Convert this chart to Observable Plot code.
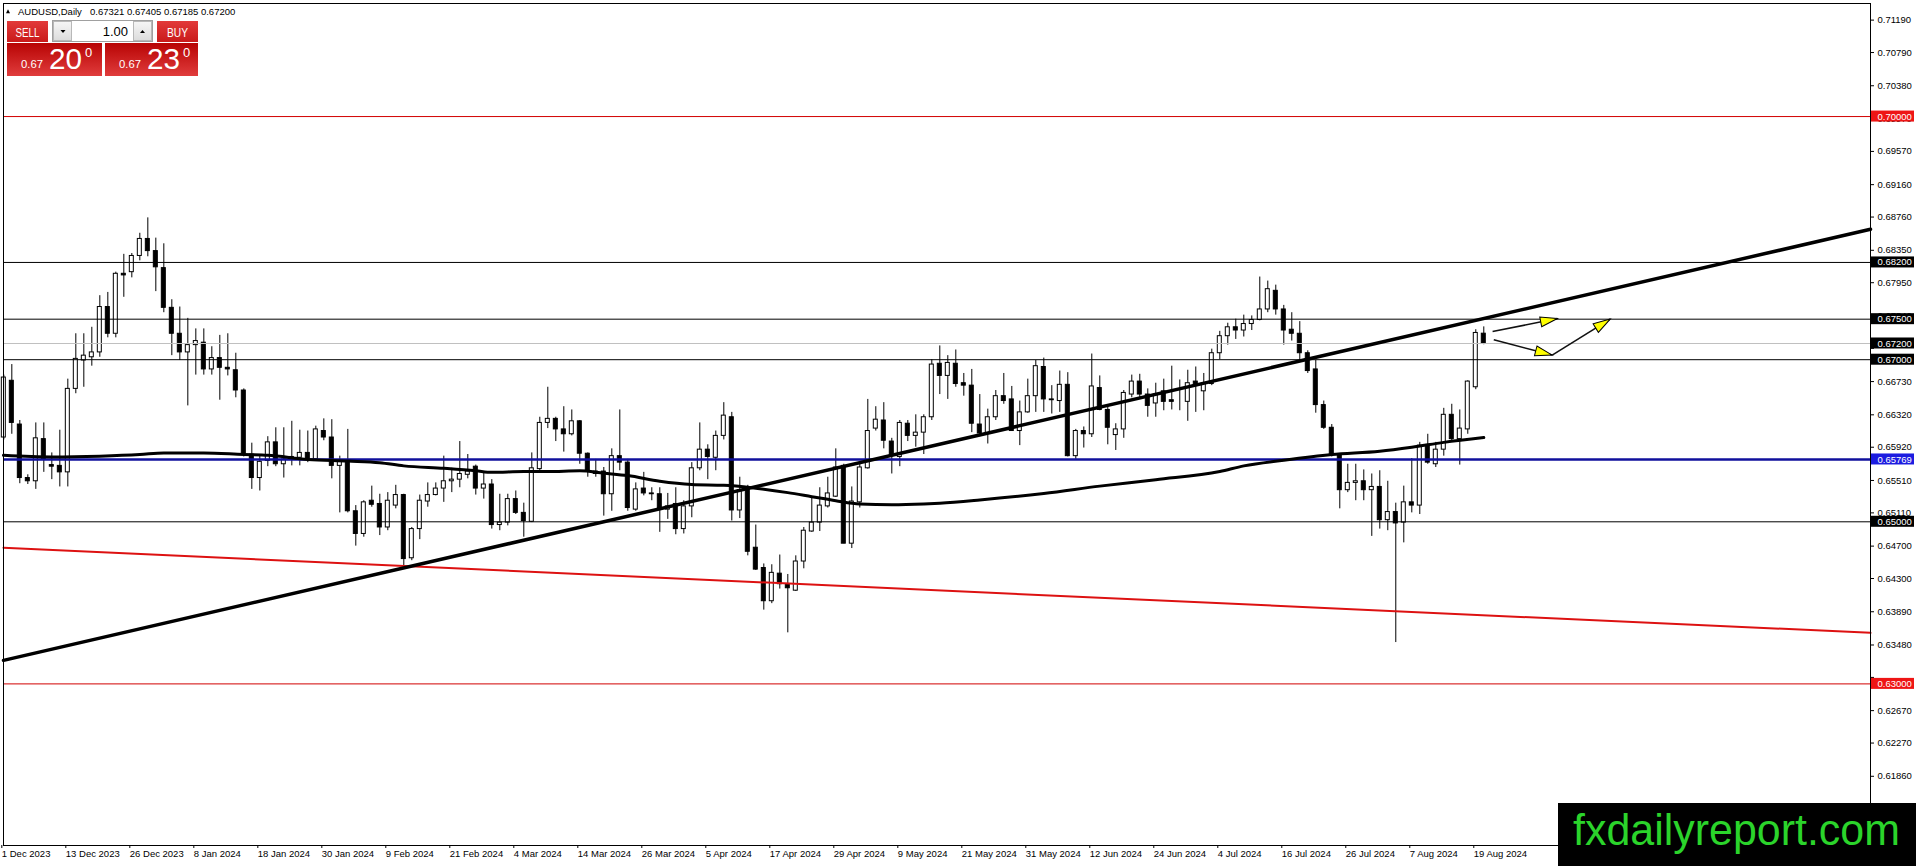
<!DOCTYPE html>
<html><head><meta charset="utf-8">
<script src="https://cdn.jsdelivr.net/npm/d3@7"></script>
<script src="https://cdn.jsdelivr.net/npm/@observablehq/plot@0.6"></script>
<style>
html,body{margin:0;padding:0;background:#fff;}
#wrap{position:relative;width:1916px;height:866px;overflow:hidden;}
#wrap svg{display:block;}
#ov{position:absolute;left:0;top:0;pointer-events:none;}
</style></head>
<body><div id="wrap"></div>
<script>
// ---------- data ----------
const xTickIdx = [0,8,16,24,32,40,48,56,64,72,80,88,96,104,112,120,128,136,144,152,160,168,176,184];
const xTickLabels = ["1 Dec 2023","13 Dec 2023","26 Dec 2023","8 Jan 2024","18 Jan 2024","30 Jan 2024","9 Feb 2024","21 Feb 2024","4 Mar 2024","14 Mar 2024","26 Mar 2024","5 Apr 2024","17 Apr 2024","29 Apr 2024","9 May 2024","21 May 2024","31 May 2024","12 Jun 2024","24 Jun 2024","4 Jul 2024","16 Jul 2024","26 Jul 2024","7 Aug 2024","19 Aug 2024"];
const yTicks = [0.71190,0.70790,0.70380,0.69970,0.69570,0.69160,0.68760,0.68350,0.67950,0.67540,0.67140,0.66730,0.66320,0.65920,0.65510,0.65110,0.64700,0.64300,0.63890,0.63480,0.63080,0.62670,0.62270,0.61860];
// tick labels covered by the level price boxes
const yTicksCovered = [0.67140, 0.63080];

const open = [0.6604,0.6674,0.6620,0.6554,0.6550,0.6602,0.6570,0.6569,0.6561,0.6664,0.6699,0.6703,0.6709,0.6765,0.6732,0.6806,0.6808,0.6828,0.6849,0.6834,
0.6813,0.6764,0.6732,0.6709,0.6718,0.6721,0.6688,0.6702,0.6690,0.6687,0.6662,0.6583,0.6554,0.6575,0.6598,0.6571,0.6580,0.6579,0.6585,0.6577,
0.6612,0.6604,0.6569,0.6575,0.6513,0.6485,0.6526,0.6522,0.6493,0.6520,0.6533,0.6455,0.6491,0.6525,0.6533,0.6541,0.6550,0.6552,0.6558,0.6568,
0.6541,0.6546,0.6496,0.6499,0.6528,0.6511,0.6500,0.6565,0.6622,0.6627,0.6614,0.6608,0.6624,0.6584,0.6562,0.6562,0.6534,0.6581,0.6573,0.6515,
0.6541,0.6535,0.6534,0.6515,0.6522,0.6491,0.6519,0.6566,0.6589,0.6579,0.6606,0.6629,0.6514,0.6541,0.6468,0.6443,0.6402,0.6436,0.6423,0.6415,
0.6451,0.6488,0.6499,0.6519,0.6531,0.6569,0.6473,0.6524,0.6566,0.6615,0.6625,0.6599,0.6580,0.6621,0.6606,0.6610,0.6629,0.6695,0.6680,0.6695,
0.6671,0.6668,0.6620,0.6609,0.6629,0.6655,0.6651,0.6612,0.6635,0.6655,0.6691,0.6651,0.6649,0.6669,0.6581,0.6612,0.6608,0.6665,0.6638,0.6607,
0.6614,0.6657,0.6673,0.6657,0.6646,0.6661,0.6650,0.6649,0.6648,0.6673,0.6661,0.6670,0.6708,0.6729,0.6740,0.6736,0.6744,0.6749,0.6762,0.6785,
0.6762,0.6737,0.6732,0.6708,0.6688,0.6644,0.6616,0.6582,0.6539,0.6548,0.6550,0.6539,0.6543,0.6502,0.6512,0.6499,0.6524,0.6520,0.6594,0.6571,
0.6589,0.6632,0.6602,0.6614,0.6666,0.67321];
const high = [0.6681,0.6694,0.6625,0.6558,0.6622,0.6622,0.6585,0.6613,0.6676,0.6732,0.6732,0.6740,0.6779,0.6783,0.6808,0.6830,0.6831,0.6856,0.6875,0.6850,
0.6843,0.6774,0.6765,0.6751,0.6738,0.6738,0.6716,0.6730,0.6732,0.6708,0.6664,0.6597,0.6583,0.6605,0.6616,0.6616,0.6624,0.6613,0.6612,0.6618,
0.6627,0.6626,0.6581,0.6614,0.6520,0.6526,0.6544,0.6534,0.6536,0.6545,0.6534,0.6493,0.6533,0.6548,0.6548,0.6581,0.6566,0.6599,0.6583,0.6570,
0.6561,0.6552,0.6534,0.6534,0.6538,0.6523,0.6585,0.6629,0.6666,0.6629,0.6642,0.6638,0.6625,0.6585,0.6577,0.6567,0.6590,0.6638,0.6577,0.6548,
0.6561,0.6542,0.6542,0.6535,0.6542,0.6526,0.6573,0.6622,0.6595,0.6612,0.6647,0.6635,0.6555,0.6545,0.6496,0.6448,0.6447,0.6459,0.6435,0.6458,
0.6493,0.6531,0.6542,0.6555,0.6590,0.6571,0.6543,0.6573,0.6651,0.6642,0.6647,0.6603,0.6625,0.6625,0.6632,0.6632,0.6700,0.6717,0.6705,0.6712,
0.6683,0.6688,0.6657,0.6639,0.6662,0.6683,0.6667,0.6649,0.6676,0.6699,0.6702,0.6668,0.6686,0.6684,0.6614,0.6617,0.6707,0.6680,0.6642,0.6621,
0.6662,0.6681,0.6682,0.6664,0.6671,0.6676,0.6692,0.6675,0.6687,0.6691,0.6683,0.6713,0.6735,0.6745,0.6750,0.6755,0.6754,0.6802,0.6797,0.6792,
0.6767,0.6758,0.6747,0.6711,0.6699,0.6649,0.6620,0.6583,0.6571,0.6571,0.6564,0.6559,0.6563,0.6550,0.6523,0.6544,0.6578,0.6598,0.6608,0.6598,
0.6640,0.6645,0.6638,0.6674,0.6737,0.67405];
const low = [0.6601,0.6608,0.6547,0.6546,0.6540,0.6561,0.6552,0.6543,0.6543,0.6658,0.6666,0.6692,0.6703,0.6727,0.6727,0.6777,0.6801,0.6822,0.6827,0.6784,
0.6758,0.6705,0.6699,0.6643,0.6681,0.6681,0.6681,0.6650,0.6680,0.6653,0.6580,0.6540,0.6538,0.6568,0.6568,0.6554,0.6569,0.6569,0.6573,0.6575,
0.6600,0.6553,0.6511,0.6511,0.6470,0.6481,0.6518,0.6483,0.6489,0.6516,0.6446,0.6452,0.6478,0.6518,0.6532,0.6524,0.6536,0.6542,0.6553,0.6533,
0.6528,0.6491,0.6489,0.6495,0.6509,0.6481,0.6499,0.6563,0.6615,0.6599,0.6586,0.6606,0.6571,0.6555,0.6555,0.6507,0.6513,0.6563,0.6513,0.6513,
0.6532,0.6526,0.6487,0.6503,0.6484,0.6485,0.6505,0.6563,0.6552,0.6563,0.6601,0.6501,0.6504,0.6458,0.6440,0.6391,0.6399,0.6417,0.6363,0.6414,
0.6442,0.6487,0.6488,0.6517,0.6530,0.6473,0.6467,0.6517,0.6565,0.6612,0.6590,0.6559,0.6568,0.6599,0.6592,0.6583,0.6625,0.6657,0.6651,0.6666,
0.6655,0.6610,0.6605,0.6596,0.6625,0.6645,0.6612,0.6594,0.6634,0.6635,0.6635,0.6633,0.6635,0.6580,0.6577,0.6591,0.6604,0.6637,0.6595,0.6588,
0.6603,0.6653,0.6653,0.6629,0.6629,0.6637,0.6638,0.6637,0.6624,0.6635,0.6637,0.6668,0.6700,0.6718,0.6725,0.6728,0.6736,0.6748,0.6758,0.6755,
0.6718,0.6723,0.6699,0.6683,0.6634,0.6614,0.6580,0.6516,0.6536,0.6526,0.6526,0.6482,0.6491,0.6489,0.6351,0.6474,0.6511,0.6509,0.6571,0.6567,
0.6581,0.6598,0.6570,0.6608,0.6663,0.67185];
const close = [0.6678,0.6622,0.6554,0.6550,0.6603,0.6577,0.6568,0.6561,0.6664,0.6701,0.6705,0.6709,0.6765,0.6732,0.6806,0.6804,0.6828,0.6849,0.6834,0.6814,
0.6764,0.6732,0.6709,0.6718,0.6723,0.6688,0.6702,0.6690,0.6688,0.6662,0.6583,0.6554,0.6574,0.6598,0.6571,0.6577,0.6578,0.6585,0.6577,0.6614,
0.6604,0.6569,0.6575,0.6513,0.6485,0.6524,0.6521,0.6493,0.6526,0.6533,0.6454,0.6491,0.6526,0.6533,0.6541,0.6550,0.6552,0.6559,0.6562,0.6541,
0.6546,0.6496,0.6499,0.6528,0.6511,0.6501,0.6566,0.6622,0.6627,0.6614,0.6608,0.6624,0.6584,0.6563,0.6559,0.6534,0.6581,0.6573,0.6517,0.6540,
0.6535,0.6534,0.6517,0.6519,0.6491,0.6519,0.6566,0.6589,0.6580,0.6606,0.6631,0.6514,0.6539,0.6463,0.6441,0.6402,0.6437,0.6423,0.6418,0.6451,
0.6489,0.6499,0.6520,0.6535,0.6567,0.6473,0.6525,0.6567,0.6612,0.6626,0.6600,0.6582,0.6622,0.6606,0.6610,0.6629,0.6694,0.6680,0.6696,0.6670,
0.6668,0.6621,0.6609,0.6629,0.6655,0.6649,0.6612,0.6635,0.6655,0.6692,0.6651,0.6650,0.6669,0.6581,0.6612,0.6608,0.6667,0.6638,0.6616,0.6614,
0.6659,0.6673,0.6657,0.6643,0.6657,0.6648,0.6648,0.6649,0.6671,0.6668,0.6671,0.6708,0.6729,0.6740,0.6736,0.6744,0.6749,0.6762,0.6787,0.6762,
0.6736,0.6732,0.6708,0.6686,0.6644,0.6616,0.6582,0.6539,0.6548,0.6550,0.6539,0.6543,0.6502,0.6512,0.6498,0.6524,0.6520,0.6594,0.6573,0.6589,
0.6632,0.6602,0.6615,0.6673,0.6733,0.67200];

// moving average (bar index, value)
const maIdx = [-0.04,6,12,17,20,25,30,33,38,43,47,50,55,59,61,65,68,72,75,78,82,86,90,93.5,98,101,104,107,111,115,117,122,130,137,144,152,155,160,166,172,176,180,185];
const maVal = [0.6582,0.6580,0.6581,0.6583,0.6585,0.6585,0.6583,0.6582,0.6577,0.6575,0.6573,0.6569,0.6566,0.6563,0.6561,0.6562,0.6562,0.6563,0.6560,0.6557,0.6550,0.6546,0.6545,0.6542,0.6536,0.6531,0.6526,0.6522,0.6521,0.6522,0.6523,0.6527,0.6535,0.6544,0.6552,0.6562,0.6569,0.6576,0.6583,0.6587,0.6592,0.6598,0.6604];

// drawn objects
const trendIdx = [-0.04, 233.34];
const blackTrendVal = [0.6329, 0.6861];
const redTrendVal = [0.6468, 0.6363];
const levelPrices = [0.70000, 0.68200, 0.67500, 0.67200, 0.67000, 0.65769, 0.65000, 0.63000];
const levelKinds  = ["red","black","black","bid","black","blue","black","red"];
const arrowX1 = [186.1, 186.25, 193.55];
const arrowY1 = [0.67348, 0.67245, 0.67057];
const arrowX2 = [194.2, 193.55, 200.8];
const arrowY2 = [0.67508, 0.67057, 0.67501];

// ---------- layout ----------
const W = 1916, H = 866;
const mL = 3, mR = 46, mT = 3, mB = 21;
const xDomain = [-0.04, 233.34];
const yDomain = [0.61006, 0.71395];
const kx = (W - mR - mL) / (xDomain[1] - xDomain[0]);
const ky = (H - mB - mT) / (yDomain[1] - yDomain[0]);
const pxToX = px => xDomain[0] + (px - mL) / kx;

const candles = open.map((o, i) => ({i, o, h: high[i], l: low[i], c: close[i]}));
const ma = maIdx.map((i, k) => ({i, v: maVal[k]}));
const blackTrend = trendIdx.map((i, k) => ({i, v: blackTrendVal[k]}));
const redTrend = trendIdx.map((i, k) => ({i, v: redTrendVal[k]}));

const lineStyle = {red: ["#d20000", 1], black: ["#000000", 1], bid: ["#c0c0c0", 1], blue: ["#10109c", 2.5]};
const boxStyle = {red: "#ee1515", black: "#000000", bid: "#000000", blue: "#1c1ce0"};
const levels = levelPrices.map((p, k) => ({p, stroke: lineStyle[levelKinds[k]][0], sw: lineStyle[levelKinds[k]][1], bg: boxStyle[levelKinds[k]]}));

const arrows = arrowX1.map((x1, k) => {
  const dx = (arrowX2[k] - x1) * kx, dy = -(arrowY2[k] - arrowY1[k]) * ky;
  return {x1, y1: arrowY1[k], x2: arrowX2[k], y2: arrowY2[k], rot: Math.atan2(dx, -dy) * 180 / Math.PI};
});
const headSymbol = {draw(ctx) { ctx.moveTo(0, 0); ctx.lineTo(-5, 17); ctx.lineTo(5, 17); ctx.closePath(); }};
const xLabelMap = new Map(xTickIdx.map((d, k) => [d, xTickLabels[k]]));
const boxHalf = 5.5 / ky;
const font = "'Liberation Sans', Arial, sans-serif";

const chart = Plot.plot({
  width: W, height: H,
  marginLeft: mL, marginRight: mR, marginTop: mT, marginBottom: mB,
  x: {type: "linear", domain: xDomain},
  y: {type: "linear", domain: yDomain},
  style: {fontFamily: font, fontSize: "9.5px", background: "#fff", color: "#000", overflow: "visible"},
  marks: [
    Plot.ruleX(candles, {x: "i", y1: "l", y2: "h", stroke: "#000", strokeWidth: 1}),
    Plot.rect(candles, {
      x1: d => d.i - 0.25, x2: d => d.i + 0.25,
      y1: d => Math.min(d.o, d.c), y2: d => Math.max(d.o, d.c),
      fill: d => d.c >= d.o ? "#ffffff" : "#000000", stroke: "#000", strokeWidth: 1
    }),
    Plot.ruleY(levels, {y: "p", stroke: d => d.stroke, strokeWidth: d => d.sw}),
    Plot.line(ma, {x: "i", y: "v", stroke: "#000", strokeWidth: 3, curve: "monotone-x"}),
    Plot.line(redTrend, {x: "i", y: "v", stroke: "#dd1111", strokeWidth: 2}),
    Plot.line(blackTrend, {x: "i", y: "v", stroke: "#000", strokeWidth: 3.5}),
    Plot.link(arrows, {x1: "x1", y1: "y1", x2: "x2", y2: "y2", stroke: "#111", strokeWidth: 1.6}),
    Plot.dot(arrows, {x: "x2", y: "y2", rotate: "rot", symbol: headSymbol, fill: "#ffff00", stroke: "#000", strokeWidth: 1, r: 6}),
    Plot.frame({stroke: "#000", strokeWidth: 1}),
    Plot.axisX({ticks: xTickIdx, tickFormat: d => xLabelMap.get(d), tickSize: 3, tickPadding: 2, textAnchor: "start", dx: -2, fontSize: 9.5, fontFamily: font}),
    Plot.axisY({anchor: "right", ticks: yTicks, tickFormat: d => yTicksCovered.includes(d) ? "" : d.toFixed(5), tickSize: 3, tickPadding: 4, fontSize: 9.5, fontFamily: font}),
    Plot.rect(levels, {x1: () => pxToX(1871), x2: () => pxToX(1914), y1: d => d.p - boxHalf, y2: d => d.p + boxHalf, fill: d => d.bg}),
    Plot.text(levels, {x: () => xDomain[1], y: "p", text: d => d.p.toFixed(5), dx: 7, textAnchor: "start", fill: "#fff", fontSize: 9.5, fontFamily: font})
  ]
});
const wrap = document.getElementById("wrap");
wrap.appendChild(chart);

// ---------- overlay: header, trading panel, watermark ----------
const ov = `
<svg id="ov" width="${W}" height="${H}" xmlns="http://www.w3.org/2000/svg" font-family="${font}">
 <defs>
  <linearGradient id="btn" x1="0" y1="0" x2="0" y2="1"><stop offset="0" stop-color="#e23a3a"/><stop offset="1" stop-color="#c91a1a"/></linearGradient>
  <linearGradient id="pbox" x1="0" y1="0" x2="0" y2="1"><stop offset="0" stop-color="#b80404"/><stop offset="1" stop-color="#e03c3c"/></linearGradient>
  <linearGradient id="gbtn" x1="0" y1="0" x2="0" y2="1"><stop offset="0" stop-color="#f6f6f6"/><stop offset="1" stop-color="#dcdcdc"/></linearGradient>
 </defs>
 <path d="M6 13.3 L8 9.3 L10 13.3 Z" fill="#000"/>
 <text x="18" y="15" font-size="9.5" fill="#000">AUDUSD,Daily</text>
 <text x="90" y="15" font-size="9.5" fill="#000">0.67321 0.67405 0.67185 0.67200</text>
 <rect x="7" y="21" width="41" height="21" fill="url(#btn)"/>
 <text x="27.5" y="36.5" font-size="12.5" fill="#fff" text-anchor="middle" textLength="24" lengthAdjust="spacingAndGlyphs">SELL</text>
 <rect x="52.5" y="20.5" width="100" height="21" fill="#fff" stroke="#a0a0a0"/>
 <rect x="53.5" y="21.5" width="18" height="19" fill="url(#gbtn)" stroke="#b8b8b8"/>
 <path d="M60.5 30 L65.5 30 L63 33 Z" fill="#000"/>
 <text x="128" y="36" font-size="13" fill="#000" text-anchor="end">1.00</text>
 <rect x="133.5" y="21.5" width="18" height="19" fill="url(#gbtn)" stroke="#b8b8b8"/>
 <path d="M140 33 L145 33 L142.5 30 Z" fill="#000"/>
 <rect x="157" y="21" width="41" height="21" fill="url(#btn)"/>
 <text x="177.5" y="36.5" font-size="12.5" fill="#fff" text-anchor="middle" textLength="21" lengthAdjust="spacingAndGlyphs">BUY</text>
 <rect x="7" y="43" width="95" height="33" fill="url(#pbox)"/>
 <rect x="105" y="43" width="93" height="33" fill="url(#pbox)"/>
 <text x="21" y="68" font-size="11" fill="#fff" textLength="22" lengthAdjust="spacingAndGlyphs">0.67</text>
 <text x="49" y="69" font-size="30" fill="#fff" textLength="33" lengthAdjust="spacingAndGlyphs">20</text>
 <text x="85" y="57" font-size="13" fill="#fff">0</text>
 <text x="119" y="68" font-size="11" fill="#fff" textLength="22" lengthAdjust="spacingAndGlyphs">0.67</text>
 <text x="147" y="69" font-size="30" fill="#fff" textLength="33" lengthAdjust="spacingAndGlyphs">23</text>
 <text x="183" y="57" font-size="13" fill="#fff">0</text>
 <rect x="1558" y="803" width="358" height="63" fill="#000"/>
 <text x="1573" y="845" font-size="45" fill="#2bd42b" textLength="327" lengthAdjust="spacingAndGlyphs">fxdailyreport.com</text>
</svg>`;
wrap.insertAdjacentHTML("beforeend", ov);
</script>
</body></html>
